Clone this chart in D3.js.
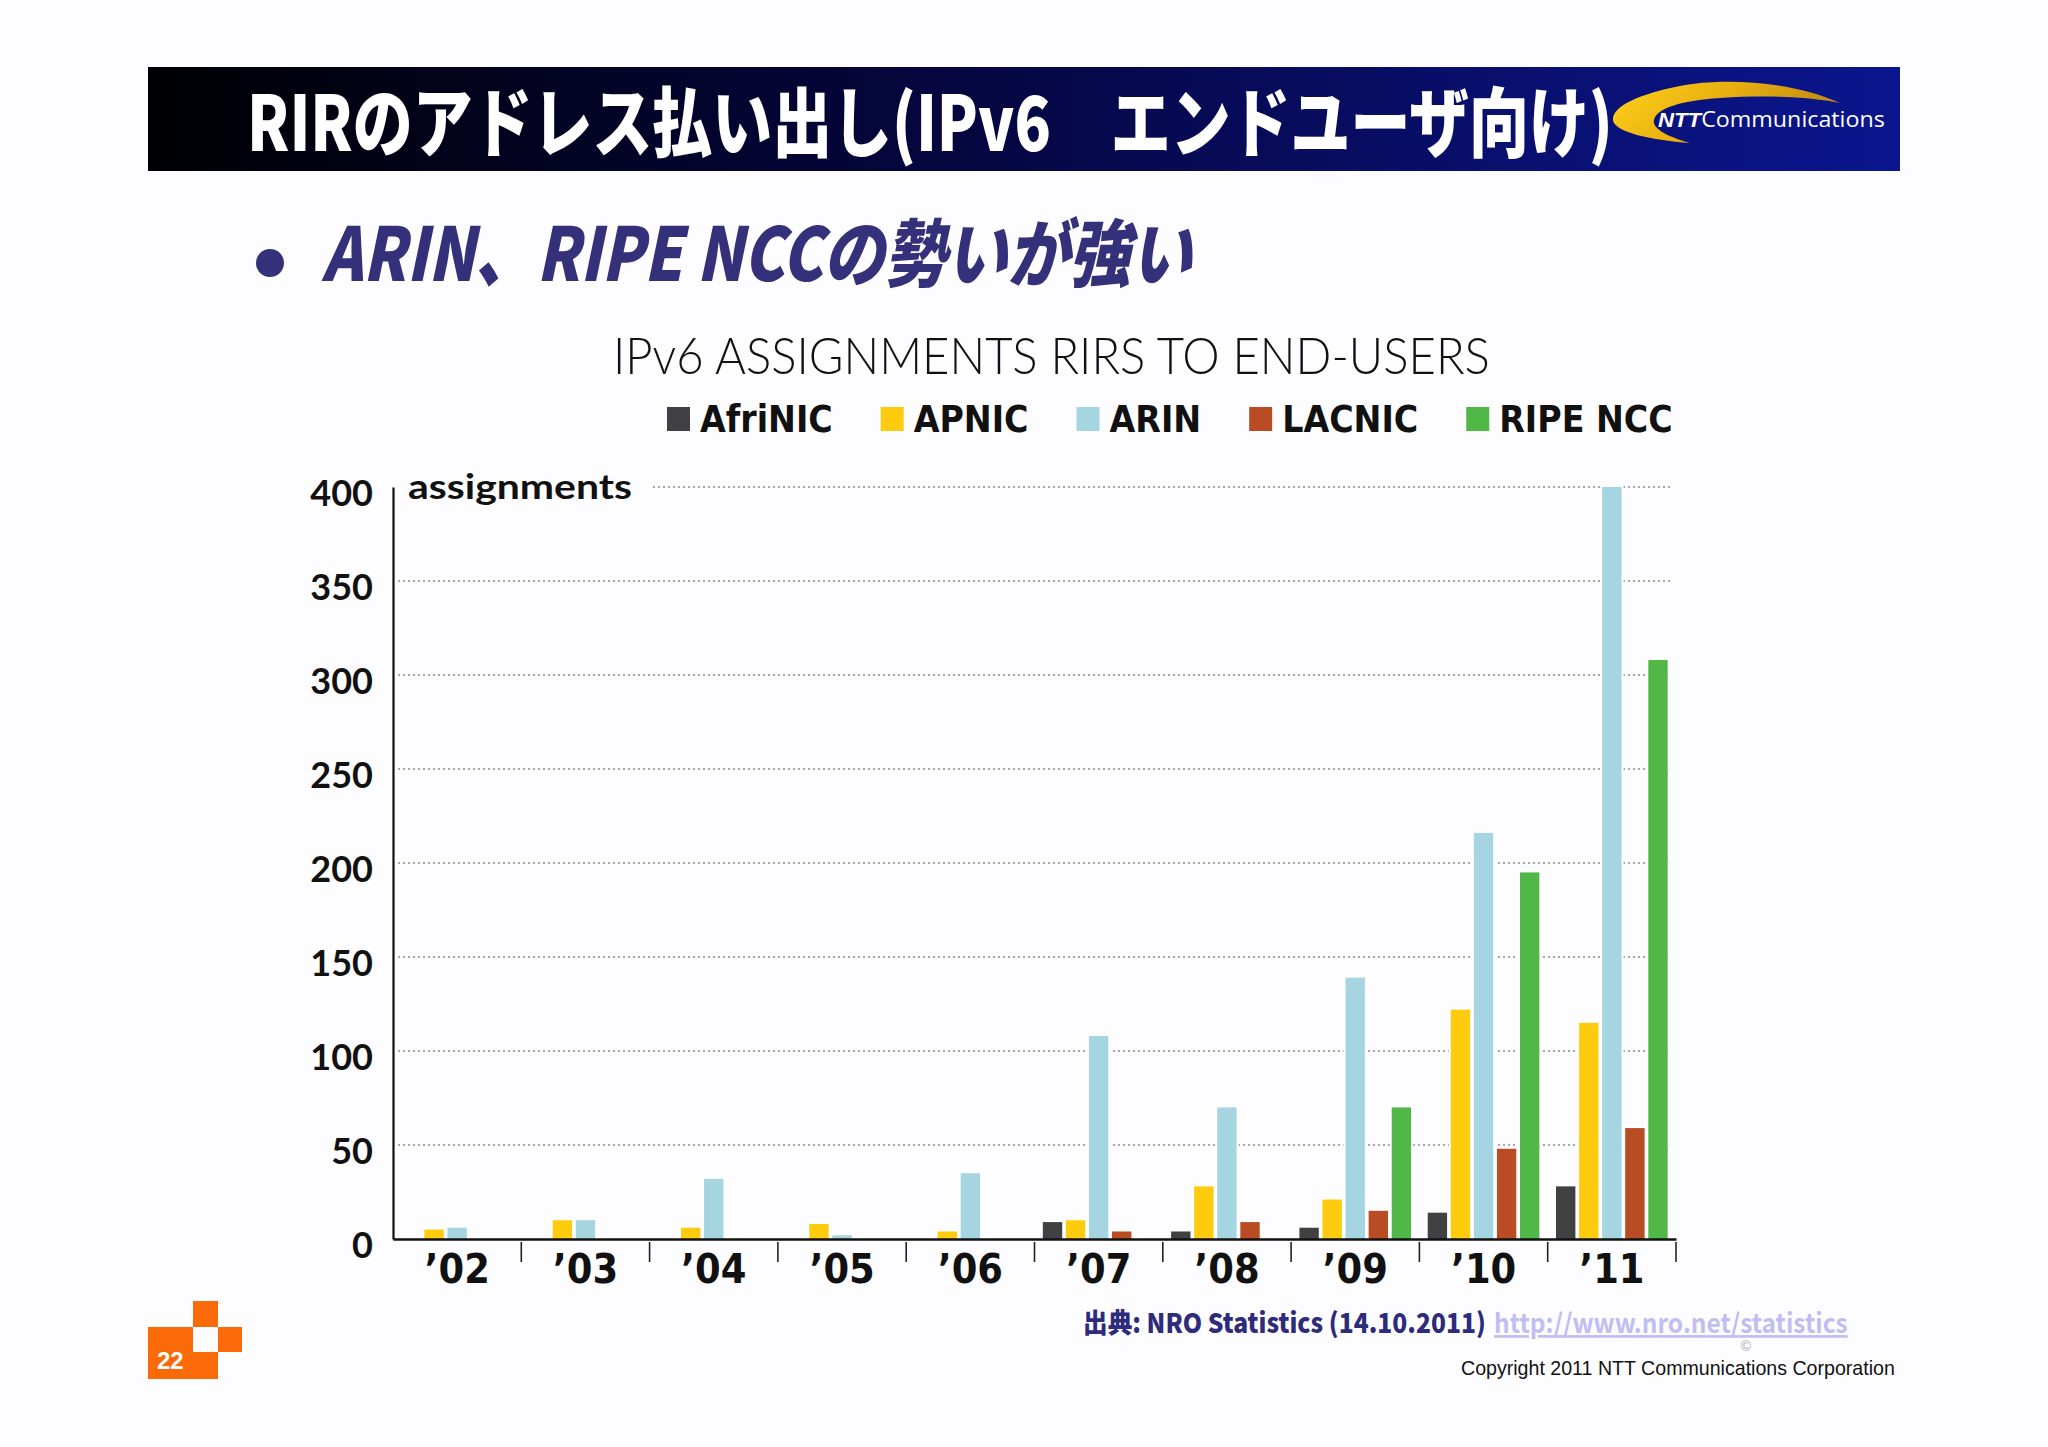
<!DOCTYPE html>
<html>
<head>
<meta charset="utf-8">
<script src="https://cdn.jsdelivr.net/npm/d3@7/dist/d3.min.js"></script>
<style>
  html, body { margin: 0; padding: 0; background: #fdfdff; }
  svg { display: block; }
</style>
</head>
<body>
<svg id="chart" width="2048" height="1447"></svg>
<script>
// ---------- data ----------
const years   = ["’02", "’03", "’04", "’05", "’06", "’07", "’08", "’09", "’10", "’11"];
const rirs    = ["AfriNIC", "APNIC", "ARIN", "LACNIC", "RIPE NCC"];
const afrinic = [0, 0, 0, 0, 0, 9, 4, 6, 14, 28];
const apnic   = [5, 10, 6, 8, 4, 10, 28, 21, 122, 115];
const arin    = [6, 10, 32, 2, 35, 108, 70, 139, 216, 400];
const lacnic  = [0, 0, 0, 0, 0, 4, 9, 15, 48, 59];
const ripe    = [0, 0, 0, 0, 0, 0, 0, 70, 195, 308];
const yTicks  = [0, 50, 100, 150, 200, 250, 300, 350, 400];
const colors  = ["#414042", "#fecb0e", "#a5d5e0", "#b94b25", "#51b847"];

const seriesValues = [afrinic, apnic, arin, lacnic, ripe];

const svg = d3.select("#chart");
const FONT = "Lato, 'Open Sans', 'DejaVu Sans', sans-serif";
const NARROW = "'Liberation Sans Narrow', 'DejaVu Sans Condensed', 'Liberation Sans', sans-serif";
const CJK = "'Noto Sans CJK JP', 'Noto Sans CJK SC', sans-serif";

// squeeze a text horizontally (real transform) so it spans the given width
function fitText(sel, x, width) {
  const w = sel.node().getComputedTextLength();
  const sx = width / w;
  sel.attr("transform", `translate(${x},0) scale(${sx},1) translate(${-x},0)`);
  return sel;
}

svg.append("rect").attr("width", 2048).attr("height", 1447).attr("fill", "#fdfdff");

// ---------- header ----------
const defs = svg.append("defs");
const hg = defs.append("linearGradient").attr("id", "hdr").attr("x1", 0).attr("x2", 1).attr("y1", 0).attr("y2", 0);
hg.append("stop").attr("offset", 0).attr("stop-color", "#000004");
hg.append("stop").attr("offset", 0.45).attr("stop-color", "#05063e");
hg.append("stop").attr("offset", 1).attr("stop-color", "#0b168f");
const gg = defs.append("linearGradient").attr("id", "gold").attr("x1", 0).attr("x2", 1).attr("y1", 0).attr("y2", 0.3);
gg.append("stop").attr("offset", 0).attr("stop-color", "#ffd21a");
gg.append("stop").attr("offset", 0.5).attr("stop-color", "#e8b010");
gg.append("stop").attr("offset", 1).attr("stop-color", "#c08a10");

svg.append("rect").attr("x", 148).attr("y", 67).attr("width", 1752).attr("height", 104).attr("fill", "url(#hdr)");
fitText(svg.append("text")
  .attr("x", 247).attr("y", 151)
  .attr("font-family", CJK).attr("font-weight", 900).attr("font-size", 76)
  .attr("fill", "#ffffff")
  .text("RIRのアドレス払い出し(IPv6　エンドユーザ向け)"), 247, 1366);

// NTT logo crescent
svg.append("path")
  .attr("d", "M1840,103 C1790,80 1720,78 1680,86 C1640,94 1612,106 1613,120 C1614,132 1650,140 1690,143 C1665,136 1652,128 1654,120 C1657,108 1680,101 1720,98 C1770,95 1810,97 1840,103 Z")
  .attr("fill", "url(#gold)");
const logo = svg.append("text").attr("x", 1658).attr("y", 127).attr("fill", "#ffffff");
logo.append("tspan").attr("font-family", "'Liberation Sans', sans-serif").attr("font-weight", 700)
  .attr("font-style", "italic").attr("font-size", 21).text("NTT");
logo.append("tspan").attr("font-family", "'Open Sans', sans-serif").attr("font-weight", 400)
  .attr("font-size", 22).text("Communications");
fitText(logo, 1658, 227);

// ---------- bullet headline ----------
svg.append("circle").attr("cx", 270).attr("cy", 263).attr("r", 14).attr("fill", "#35307a");
fitText(svg.append("text")
  .attr("x", 322).attr("y", 281)
  .attr("font-family", CJK).attr("font-weight", 900).attr("font-size", 74)
  .attr("font-style", "italic")
  .attr("fill", "#35307a")
  .text("ARIN、RIPE NCCの勢いが強い"), 322, 870);

// ---------- chart title ----------
fitText(svg.append("text")
  .attr("x", 613).attr("y", 374)
  .attr("font-family", FONT).attr("font-weight", 300).attr("font-size", 51)
  .attr("fill", "#111")
  .text("IPv6 ASSIGNMENTS RIRS TO END-USERS"), 613, 877);

// ---------- legend ----------
const legend = svg.append("g");
let lx = 667;
rirs.forEach((name, i) => {
  legend.append("rect").attr("x", lx).attr("y", 407).attr("width", 23).attr("height", 24).attr("fill", colors[i]);
  const t = legend.append("text")
    .attr("x", lx + 33).attr("y", 432)
    .attr("font-family", NARROW).attr("font-weight", 700).attr("font-size", 37)
    .attr("fill", "#111").text(name);
  const w = t.node().getComputedTextLength();
  lx += 33 + w + 48;
});

// ---------- scales ----------
const x0 = d3.scaleBand().domain(years).range([393, 1676]).paddingInner(0).paddingOuter(0);
const x1 = d3.scaleBand().domain(rirs).range([0, x0.bandwidth()]).paddingInner(0.16).paddingOuter(0.36);
const y = d3.scaleLinear().domain([0, 400]).range([1239, 487]);

// gridlines
const grid = svg.append("g");
grid.selectAll("line").data(yTicks.filter(d => d > 0)).join("line")
  .attr("x1", 398).attr("x2", 1673)
  .attr("y1", d => y(d)).attr("y2", d => y(d))
  .attr("stroke", "#8a8a8a").attr("stroke-width", 1.4).attr("stroke-dasharray", "2,3");

// "assignments" label with backing
svg.append("rect").attr("x", 396).attr("y", y(400) - 30).attr("width", 255).attr("height", 50).attr("fill", "#fdfdff");
fitText(svg.append("text")
  .attr("x", 408).attr("y", 499)
  .attr("font-family", FONT).attr("font-weight", 700).attr("font-size", 35)
  .attr("fill", "#111").text("assignments"), 408, 224);

// bars
const flat = [];
years.forEach((yr, i) => rirs.forEach((r, j) => flat.push({ yr, r, j, v: seriesValues[j][i] })));
const nonzero = flat.filter(d => d.v > 0);
const barsG = svg.append("g");
barsG.selectAll("rect.halo").data(nonzero).join("rect").attr("class", "halo")
  .attr("x", d => x0(d.yr) + x1(d.r) - 2)
  .attr("width", x1.bandwidth() + 4)
  .attr("y", d => y(d.v) - 2)
  .attr("height", d => y(0) - y(d.v) + 2)
  .attr("fill", "#ffffff");
barsG.selectAll("rect.bar").data(nonzero).join("rect").attr("class", "bar")
  .attr("x", d => x0(d.yr) + x1(d.r))
  .attr("width", x1.bandwidth())
  .attr("y", d => y(d.v))
  .attr("height", d => y(0) - y(d.v))
  .attr("fill", d => colors[d.j]);

// y axis
const yAxis = d3.axisLeft(y).tickValues(yTicks).tickSize(0).tickPadding(20);
const gy = svg.append("g").attr("transform", "translate(393,0)").call(yAxis);
gy.select(".domain").attr("stroke", "#111").attr("stroke-width", 2.2);
gy.selectAll("text")
  .attr("font-family", FONT).attr("font-weight", 700).attr("font-size", 36)
  .attr("fill", "#111").attr("dy", "0.52em");

// x axis
const xAxis = d3.axisBottom(x0).tickSize(0).tickPadding(14);
const gx = svg.append("g").attr("transform", `translate(0,${y(0)})`).call(xAxis);
gx.select(".domain").attr("stroke", "#111").attr("stroke-width", 2.6);
gx.selectAll("text")
  .attr("font-family", NARROW).attr("font-weight", 700).attr("font-size", 41)
  .attr("fill", "#111").attr("dy", "0.72em");
// separators between categories
gx.selectAll("line.sep").data(years).join("line").attr("class", "sep")
  .attr("x1", d => x0(d) + x0.bandwidth()).attr("x2", d => x0(d) + x0.bandwidth())
  .attr("y1", 3).attr("y2", 23)
  .attr("stroke", "#222").attr("stroke-width", 1.6);

// ---------- footer ----------
fitText(svg.append("text")
  .attr("x", 1083).attr("y", 1333)
  .attr("font-family", CJK).attr("font-weight", 900).attr("font-size", 27)
  .attr("fill", "#2e2a7c")
  .text("出典: NRO Statistics (14.10.2011)"), 1083, 403);
fitText(svg.append("text")
  .attr("x", 1494).attr("y", 1333)
  .attr("font-family", CJK).attr("font-weight", 700).attr("font-size", 27)
  .attr("fill", "#c0bdf2").attr("text-decoration", "underline")
  .text("http://www.nro.net/statistics"), 1494, 354);
svg.append("text")
  .attr("x", 1746).attr("y", 1351).attr("text-anchor", "middle")
  .attr("font-family", "'Liberation Sans', sans-serif").attr("font-size", 14)
  .attr("fill", "#aaa").text("©");
fitText(svg.append("text")
  .attr("x", 1461).attr("y", 1375)
  .attr("font-family", "'Liberation Sans', Arial, sans-serif").attr("font-size", 20)
  .attr("fill", "#111").text("Copyright 2011 NTT Communications Corporation"), 1461, 434);

// page number block
const og = svg.append("g").attr("fill", "#fb6a09");
og.append("rect").attr("x", 193).attr("y", 1301).attr("width", 25).attr("height", 26);
og.append("rect").attr("x", 148).attr("y", 1327).attr("width", 45).attr("height", 52);
og.append("rect").attr("x", 218).attr("y", 1327).attr("width", 24).attr("height", 25);
og.append("rect").attr("x", 193).attr("y", 1352).attr("width", 25).attr("height", 27);
svg.append("text").attr("x", 157).attr("y", 1369)
  .attr("font-family", "'Liberation Sans', Arial, sans-serif").attr("font-weight", 700).attr("font-size", 24)
  .attr("fill", "#fff").text("22");
</script>
</body>
</html>
